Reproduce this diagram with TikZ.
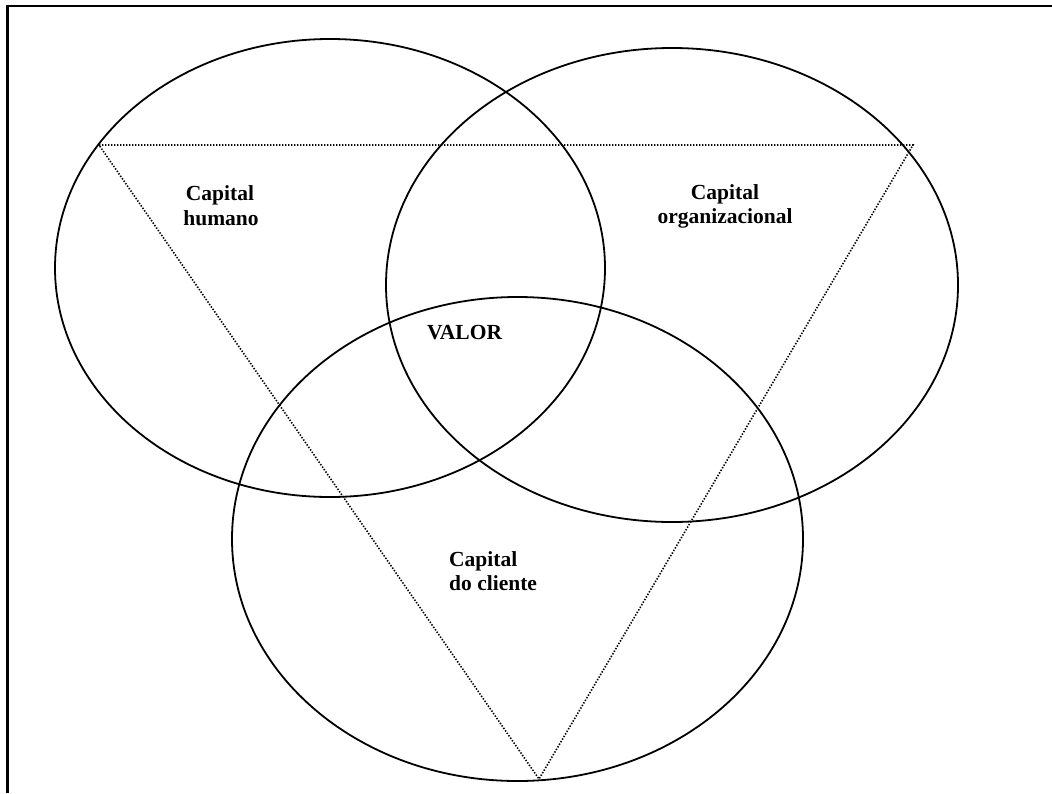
\documentclass[tikz,border=0pt]{standalone}
\usepackage{fontspec}
\setmainfont{Liberation Serif}
\begin{document}
\begin{tikzpicture}[x=1pt,y=-1pt,
  frame/.style={line width=2.4pt},
  set/.style={line width=1.8pt},
  guide/.style={line width=1.6pt,dash pattern=on 1.4pt off 1.6pt},
  lbl/.style={inner sep=0pt,font=\fontsize{21.5}{25}\selectfont\bfseries}]
\useasboundingbox (0,0) rectangle (1052,793);
% open frame: top and left edges only
\coordinate (fa) at (7.5,793);
\coordinate (fb) at (7.5,6);
\coordinate (fc) at (1052,6);
\draw[frame] (fa) -- (fb) -- (fc);
% the three capitals
\draw[set] (330,268) ellipse [x radius=275pt, y radius=229pt];
\draw[set] (672,285) ellipse [x radius=286pt, y radius=237pt];
\draw[set] (517.5,539) ellipse [x radius=285.5pt, y radius=242pt];
% dotted triangle joining them
\coordinate (t1) at (99,145);
\coordinate (t2) at (913,145);
\coordinate (t3) at (539,779);
\draw[guide] (t1) -- (t2) -- (t3) -- cycle;
% labels
\node[lbl,anchor=base] (h1) at (220,200) {Capital};
\node[lbl,anchor=base] (h2) at (221,225) {humano};
\node[lbl,anchor=base] (o1) at (725,199) {Capital};
\node[lbl,anchor=base] (o2) at (725,223) {organizacional};
\node[lbl,anchor=base west] (v) at (427,339) {VALOR};
\node[lbl,anchor=base west] (c1) at (449,566) {Capital};
\node[lbl,anchor=base west] (c2) at (449,590) {do cliente};
\end{tikzpicture}
\end{document}
